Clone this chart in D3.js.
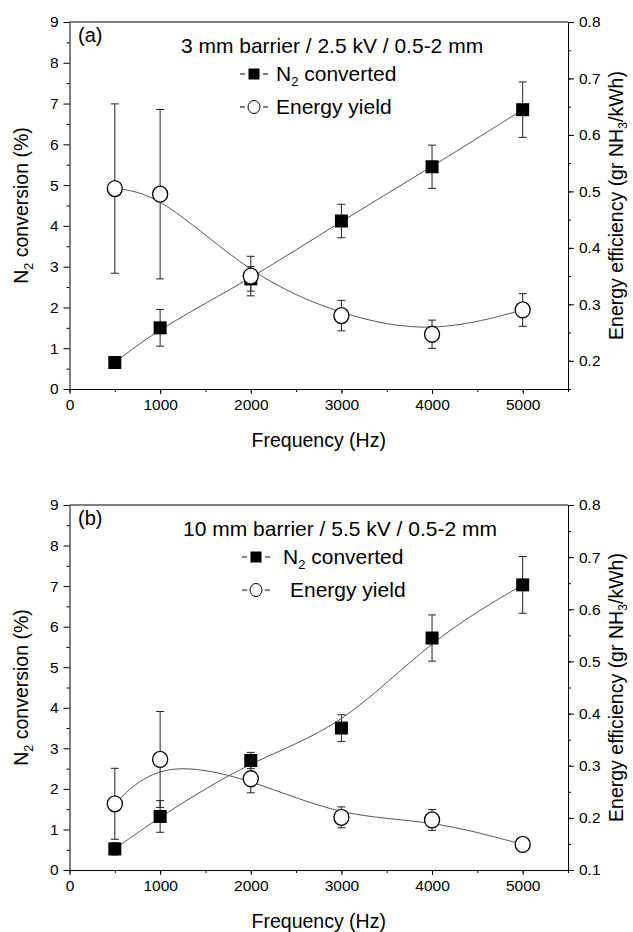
<!DOCTYPE html>
<html>
<head>
<meta charset="utf-8">
<script src="https://cdn.jsdelivr.net/npm/d3@7"></script>
<style>
  body { margin: 0; background: #fff; }
  svg { display: block; font-family: "Liberation Sans", Arial, sans-serif; }
</style>
</head>
<body>
<div id="chart"></div>
<script>
// data
const freq = [500, 1000, 2000, 3000, 4000, 5000];

// panel (a)
const n2ConvA = [0.65, 1.5, 2.7, 4.12, 5.45, 6.85];
const n2ErrA = [0.05, 0.45, 0.3, 0.41, 0.53, 0.68];
const yieldA = [0.505, 0.495, 0.35, 0.28, 0.247, 0.29];
const yieldErrA = [0.15, 0.15, 0.035, 0.027, 0.025, 0.029];

// panel (b)
const n2ConvB = [0.52, 1.32, 2.7, 3.5, 5.72, 7.03];
const n2ErrB = [0.15, 0.39, 0.2, 0.33, 0.57, 0.7];
const yieldB = [0.227, 0.312, 0.275, 0.201, 0.196, 0.149];
const yieldErrB = [0.068, 0.092, 0.027, 0.02, 0.02, 0.013];

const xTicks = [0, 1000, 2000, 3000, 4000, 5000];
const leftTicks = [0, 1, 2, 3, 4, 5, 6, 7, 8, 9];
const rightTicksA = [0.2, 0.3, 0.4, 0.5, 0.6, 0.7, 0.8];
const rightTicksB = [0.1, 0.2, 0.3, 0.4, 0.5, 0.6, 0.7, 0.8];

const width = 633, height = 932;
const left = 69.5, right = 568;
const lineColor = "#444";

const svg = d3.select("#chart").append("svg")
    .attr("width", width)
    .attr("height", height);

const x = d3.scaleLinear().domain([0, 5500]).range([left, right]);

function drawPanel(p) {
  const yL = d3.scaleLinear().domain([0, 9]).range([p.bottom, p.top]);
  const yR = d3.scaleLinear().domain(p.rightDomain).range([p.bottom, p.top]);
  const g = svg.append("g");

  // x axis: minor + major ticks
  g.append("g")
      .attr("transform", `translate(0,${p.bottom})`)
      .call(d3.axisBottom(x).tickValues(d3.range(0, 5501, 500)).tickSize(3).tickFormat(""))
      .call(a => a.select(".domain").remove());
  g.append("g")
      .attr("transform", `translate(0,${p.bottom})`)
      .call(d3.axisBottom(x).tickValues(xTicks).tickSize(5).tickSizeOuter(0)
        .tickPadding(5).tickFormat(d3.format("d")))
      .call(a => a.selectAll("text").attr("font-size", 15.5).attr("font-family", null));

  // left axis
  g.append("g")
      .attr("transform", `translate(${left},0)`)
      .call(d3.axisLeft(yL).tickValues(d3.range(0.5, 9, 1)).tickSize(3).tickFormat(""))
      .call(a => a.select(".domain").remove());
  g.append("g")
      .attr("transform", `translate(${left},0)`)
      .call(d3.axisLeft(yL).tickValues(leftTicks).tickSize(6).tickSizeOuter(0).tickPadding(5))
      .call(a => a.selectAll("text").attr("font-size", 15.5).attr("font-family", null));

  // right axis
  const minorR = d3.range(p.rightDomain[0], p.rightDomain[1] + 1e-9, 0.05)
      .filter(v => Math.abs(v * 20 - Math.round(v * 20)) < 1e-6);
  g.append("g")
      .attr("transform", `translate(${right},0)`)
      .call(d3.axisRight(yR).tickValues(minorR).tickSize(3).tickFormat(""))
      .call(a => a.select(".domain").remove());
  g.append("g")
      .attr("transform", `translate(${right},0)`)
      .call(d3.axisRight(yR).tickValues(p.rightTicks).tickSize(6).tickSizeOuter(0)
        .tickPadding(5).tickFormat(d3.format(".1f")))
      .call(a => a.selectAll("text").attr("font-size", 15.5).attr("font-family", null));

  // top frame
  g.append("line")
      .attr("x1", left).attr("x2", right)
      .attr("y1", p.top).attr("y2", p.top)
      .attr("stroke", "#000");

  // curves
  const n2Pts = freq.map((f, i) => [x(f), yL(p.n2[i])]);
  const yPts = freq.map((f, i) => [x(f), yR(p.yld[i])]);
  const line = d3.line().curve(d3.curveBasis);
  g.append("path").attr("d", line(n2Pts))
      .attr("fill", "none").attr("stroke", lineColor).attr("stroke-width", 0.9);
  g.append("path").attr("d", line(yPts))
      .attr("fill", "none").attr("stroke", lineColor).attr("stroke-width", 0.9);

  // error bars
  function errBars(vals, errs, scale) {
    const eg = g.append("g").attr("stroke", "#222").attr("stroke-width", 1);
    freq.forEach((f, i) => {
      const cx = x(f), y1 = scale(vals[i] - errs[i]), y2 = scale(vals[i] + errs[i]);
      eg.append("line").attr("x1", cx).attr("x2", cx).attr("y1", y1).attr("y2", y2);
      eg.append("line").attr("x1", cx - 4).attr("x2", cx + 4).attr("y1", y1).attr("y2", y1);
      eg.append("line").attr("x1", cx - 4).attr("x2", cx + 4).attr("y1", y2).attr("y2", y2);
    });
  }
  errBars(p.yld, p.yldErr, yR);
  errBars(p.n2, p.n2Err, yL);

  // markers
  g.append("g").selectAll("rect")
    .data(freq)
    .join("rect")
      .attr("x", (d, i) => x(d) - 6.5)
      .attr("y", (d, i) => yL(p.n2[i]) - 6.5)
      .attr("width", 13).attr("height", 13)
      .attr("fill", "#000");
  g.append("g").selectAll("ellipse")
    .data(freq)
    .join("ellipse")
      .attr("cx", d => x(d))
      .attr("cy", (d, i) => yR(p.yld[i]))
      .attr("rx", 7.5).attr("ry", 8)
      .attr("fill", "#fff").attr("stroke", "#000").attr("stroke-width", 1.3);

  // panel letter and title
  g.append("text").attr("x", 78).attr("y", p.top + 20)
      .attr("font-size", 20).text(p.letter);
  g.append("text").attr("x", p.titleX).attr("y", p.top + 31)
      .attr("font-size", 21).attr("text-anchor", "middle").text(p.title);

  // legend
  const ly1 = p.top + 52, ly2 = p.top + 85;
  const lx = p.legendX;
  const lg = g.append("g").attr("stroke", "#000").attr("stroke-width", 1);
  [[lx - 14, lx - 9], [lx + 9, lx + 14]].forEach(s => {
    lg.append("line").attr("x1", s[0]).attr("x2", s[1]).attr("y1", ly1).attr("y2", ly1);
    lg.append("line").attr("x1", s[0]).attr("x2", s[1]).attr("y1", ly2).attr("y2", ly2);
  });
  g.append("rect").attr("x", lx - 5.5).attr("y", ly1 - 5.5)
      .attr("width", 11).attr("height", 11).attr("fill", "#000");
  g.append("ellipse").attr("cx", lx).attr("cy", ly2).attr("rx", 6).attr("ry", 6.5)
      .attr("fill", "#fff").attr("stroke", "#000").attr("stroke-width", 1);
  const t1 = g.append("text").attr("x", p.text1X).attr("y", ly1 + 7).attr("font-size", 21);
  t1.append("tspan").text("N");
  t1.append("tspan").attr("dy", 5).attr("font-size", 13).text("2");
  t1.append("tspan").attr("dy", -5).text(" converted");
  g.append("text").attr("x", p.text2X).attr("y", ly2 + 7).attr("font-size", 21).text("Energy yield");

  // axis titles
  g.append("text").attr("x", (left + right) / 2).attr("y", p.bottom + 58)
      .attr("font-size", 19.5).attr("text-anchor", "middle").text("Frequency (Hz)");

  const midY = (p.top + p.bottom) / 2;
  const lt = g.append("text")
      .attr("transform", `translate(28,${midY}) rotate(-90)`)
      .attr("font-size", 19.5).attr("text-anchor", "middle");
  lt.append("tspan").text("N");
  lt.append("tspan").attr("dy", 5).attr("font-size", 12.5).text("2");
  lt.append("tspan").attr("dy", -5).text(" conversion (%)");

  const rt = g.append("text")
      .attr("transform", `translate(623,${midY}) rotate(-90)`)
      .attr("font-size", 19.5).attr("text-anchor", "middle");
  rt.append("tspan").text("Energy efficiency (gr NH");
  rt.append("tspan").attr("dy", 4).attr("font-size", 12.5).text("3");
  rt.append("tspan").attr("dy", -4).text("/kWh)");
}

drawPanel({
  top: 22, bottom: 389, rightDomain: [0.15, 0.8], rightTicks: rightTicksA,
  n2: n2ConvA, n2Err: n2ErrA, yld: yieldA, yldErr: yieldErrA,
  letter: "(a)", title: "3 mm barrier / 2.5 kV / 0.5-2 mm", titleX: 332,
  legendX: 254, text1X: 276, text2X: 276
});

drawPanel({
  top: 505, bottom: 870, rightDomain: [0.1, 0.8], rightTicks: rightTicksB,
  n2: n2ConvB, n2Err: n2ErrB, yld: yieldB, yldErr: yieldErrB,
  letter: "(b)", title: "10 mm barrier / 5.5 kV / 0.5-2 mm", titleX: 340,
  legendX: 256, text1X: 283, text2X: 290
});
</script>
</body>
</html>
